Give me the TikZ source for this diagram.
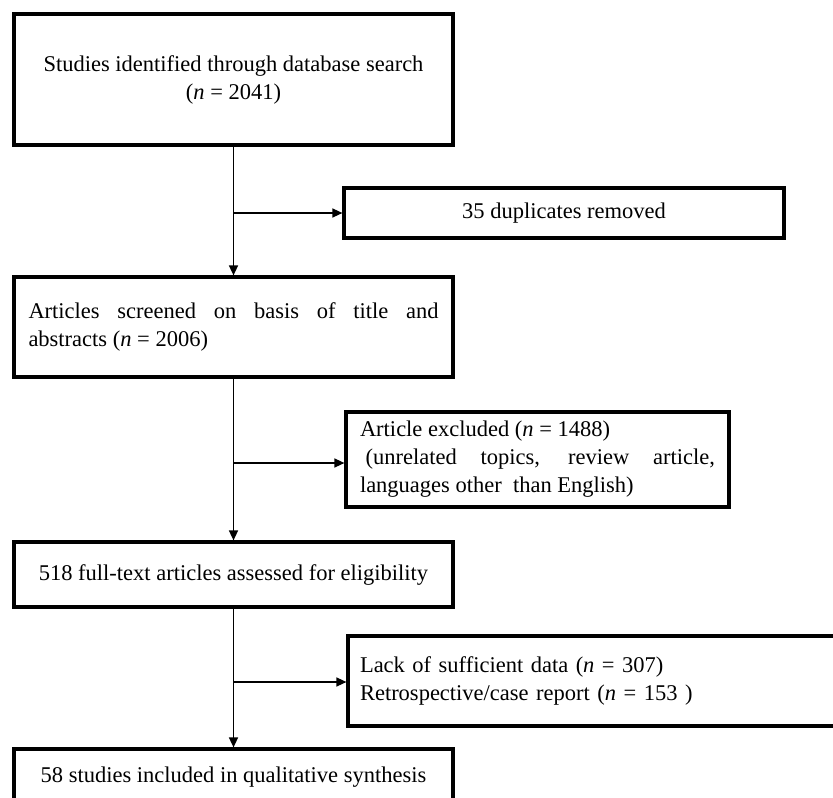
\documentclass[tikz,border=0pt]{standalone}
\usepackage{fontspec}
\setmainfont{Liberation Serif}
\usetikzlibrary{arrows.meta}
\begin{document}
\begin{tikzpicture}[x=1pt,y=-1pt,
  box/.style={draw=black, line width=3.2pt, rectangle, inner sep=0pt, font=\fontsize{22.5}{28}\selectfont},
  conn/.style={draw=black, line width=1.5pt, -{Triangle[length=10pt,width=9pt]}}]
\useasboundingbox (0,0) rectangle (833,798);
\fill[white] (0,0) rectangle (833,798);

\node[box, minimum width=439pt, minimum height=131pt, align=center] (b1) at (233.5,79.5)
  {Studies identified through database search\\(\textit{n} = 2041)};
\node[box, minimum width=440pt, minimum height=50pt, align=center] (b2) at (564,213)
  {35 duplicates removed};
\node[box, minimum width=439pt, minimum height=100pt, text width=410pt, align=justify] (b3) at (233.5,327)
  {Articles screened on basis of title and\linebreak abstracts (\textit{n} = 2006)};
\node[box, minimum width=383pt, minimum height=95pt, text width=355pt, align=justify] (b4) at (537.5,459.5)
  {Article excluded (\textit{n} = 1488)\\\hspace*{0.25em}(unrelated topics, review article,\linebreak languages other \ than English)};
\node[box, minimum width=439pt, minimum height=65pt, align=center] (b5) at (233.5,574.5)
  {518 full-text articles assessed for eligibility};
\node[box, minimum width=502pt, minimum height=90pt, text width=478pt, align=left] (b6) at (599,681)
  {Lack of sufficient data (\textit{n} = 307)\\Retrospective/case report (\textit{n} = 153 )};
\node[box, minimum width=439pt, minimum height=56pt, align=center] (b7) at (233.5,777)
  {58 studies included in qualitative synthesis};

\coordinate (j1) at (b1.south |- b2.west);
\coordinate (j2) at (b3.south |- 0,463);
\coordinate (j3) at (b5.south |- 0,682);

\draw[conn] (b1.south) -- (b3.north);
\draw[conn] (j1) -- (b2.west);
\draw[conn] (b3.south) -- (b5.north);
\draw[conn] (j2) -- (b4.west |- j2);
\draw[conn] (b5.south) -- (b7.north);
\draw[conn] (j3) -- (b6.west |- j3);
\end{tikzpicture}
\end{document}
